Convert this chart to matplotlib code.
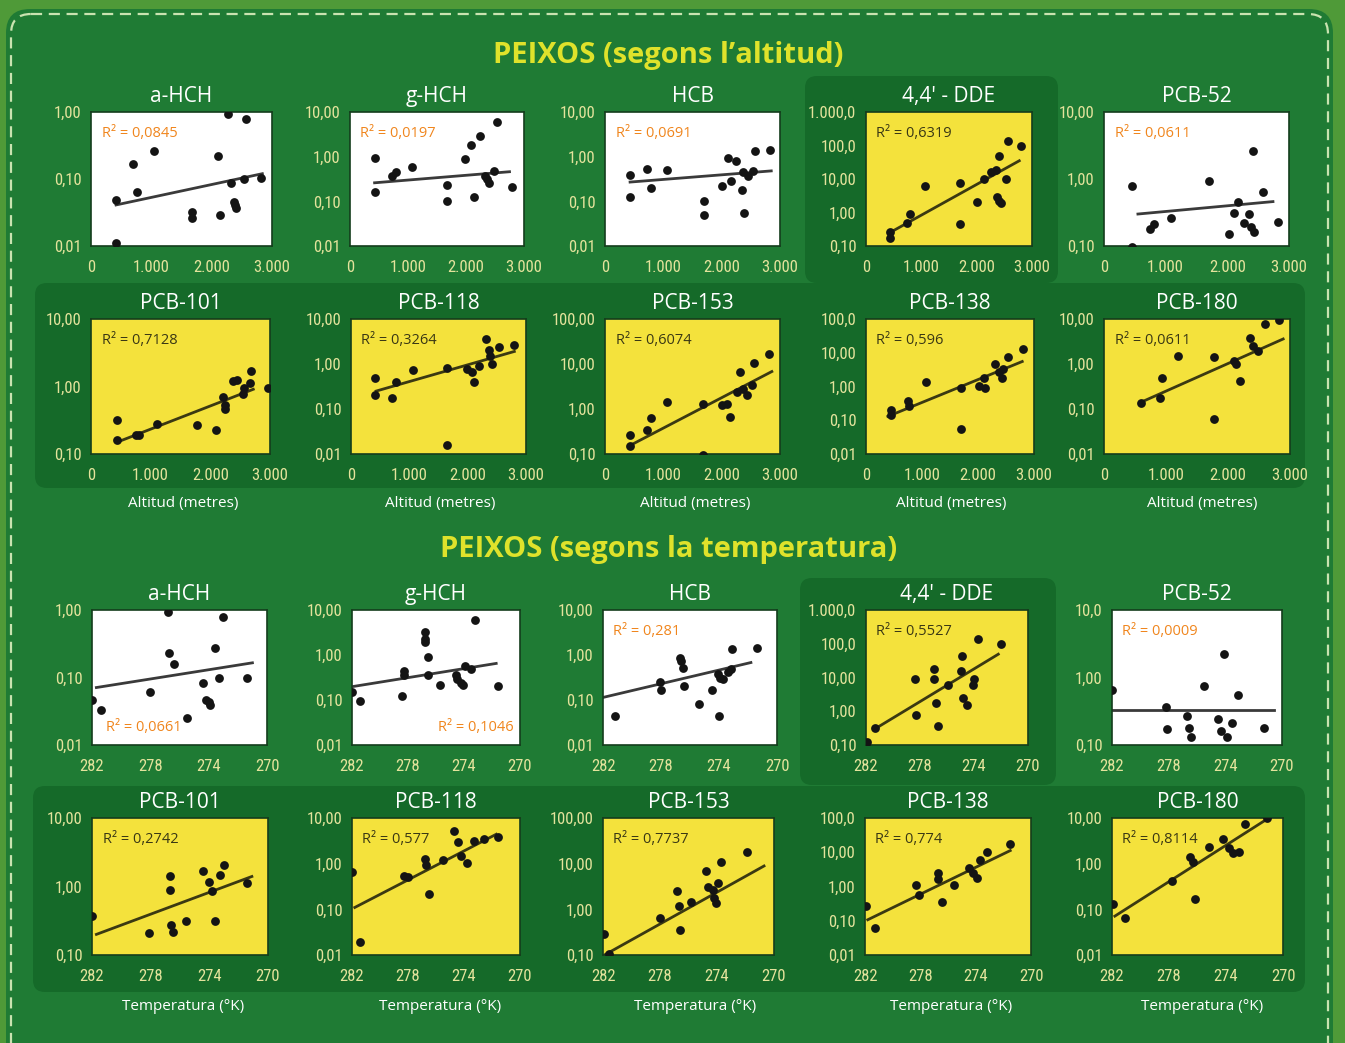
import numpy as np
import matplotlib.pyplot as plt
from matplotlib.patches import FancyBboxPatch
from matplotlib.ticker import NullLocator

W, H = 1345, 1043

compounds_top = ["a-HCH", "g-HCH", "HCB", "4,4' - DDE", "PCB-52"]
compounds_bottom = ["PCB-101", "PCB-118", "PCB-153", "PCB-138", "PCB-180"]

alt_ticks = [0, 1000, 2000, 3000]
alt_ticklabels = ["0", "1.000", "2.000", "3.000"]
temp_ticks = [282, 278, 274, 270]
temp_ticklabels = ["282", "278", "274", "270"]

ylims_top = [(0.01, 1), (0.01, 10), (0.01, 10), (0.1, 1000), (0.1, 10)]
ylims_bottom = [(0.1, 10), (0.01, 10), (0.1, 100), (0.01, 100), (0.01, 10)]
ylabels_top_alt = [["0,01", "0,10", "1,00"],
                   ["0,01", "0,10", "1,00", "10,00"],
                   ["0,01", "0,10", "1,00", "10,00"],
                   ["0,10", "1,00", "10,00", "100,0", "1.000,0"],
                   ["0,10", "1,00", "10,00"]]
ylabels_top_temp = [["0,01", "0,10", "1,00"],
                    ["0,01", "0,10", "1,00", "10,00"],
                    ["0,01", "0,10", "1,00", "10,00"],
                    ["0,10", "1,00", "10,00", "100,0", "1.000,0"],
                    ["0,10", "1,00", "10,0"]]
ylabels_bottom = [["0,10", "1,00", "10,00"],
                  ["0,01", "0,10", "1,00", "10,00"],
                  ["0,10", "1,00", "10,00", "100,00"],
                  ["0,01", "0,10", "1,00", "10,00", "100,0"],
                  ["0,01", "0,10", "1,00", "10,00"]]

r2_alt_top = ["0,0845", "0,0197", "0,0691", "0,6319", "0,0611"]
r2_alt_bottom = ["0,7128", "0,3264", "0,6074", "0,596", "0,0611"]
r2_temp_top = ["0,0661", "0,1046", "0,281", "0,5527", "0,0009"]
r2_temp_bottom = ["0,2742", "0,577", "0,7737", "0,774", "0,8114"]

# ---- concentracio vs altitud (m)
a_hch_alt_x = [415, 415, 700, 760, 1045, 1670, 1670, 2100, 2140, 2270, 2320, 2370, 2385, 2400, 2540, 2570, 2820]
a_hch_alt_y = [0.048, 0.011, 0.165, 0.063, 0.26, 0.032, 0.026, 0.22, 0.029, 0.93, 0.087, 0.046, 0.041, 0.037, 0.10, 0.78, 0.104]
a_hch_alt_fit = [(415, 0.041), (2840, 0.12)]

g_hch_alt_x = [424, 424, 730, 795, 1070, 1680, 1680, 1985, 2085, 2135, 2235, 2320, 2360, 2400, 2490, 2540, 2800]
g_hch_alt_y = [0.93, 0.16, 0.37, 0.45, 0.59, 0.23, 0.10, 0.89, 1.82, 0.125, 2.9, 0.37, 0.32, 0.26, 0.48, 6.0, 0.21]
g_hch_alt_fit = [(424, 0.26), (2750, 0.46)]

hcb_alt_x = [430, 430, 720, 790, 1060, 1700, 1700, 2000, 2110, 2160, 2250, 2350, 2370, 2385, 2450, 2540, 2570, 2830]
hcb_alt_y = [0.39, 0.126, 0.53, 0.20, 0.51, 0.10, 0.05, 0.22, 0.93, 0.28, 0.80, 0.18, 0.45, 0.055, 0.37, 0.48, 1.35, 1.4]
hcb_alt_fit = [(430, 0.27), (2850, 0.48)]

dde_alt_x = [430, 430, 735, 790, 1060, 1690, 1700, 2010, 2140, 2260, 2350, 2370, 2400, 2440, 2400, 2530, 2570, 2800]
dde_alt_y = [0.27, 0.17, 0.48, 0.93, 6.3, 7.8, 0.45, 2.0, 10.3, 16, 18, 3.0, 2.2, 1.9, 49, 10.3, 137, 98]
dde_alt_fit = [(430, 0.25), (2770, 35)]

pcb52_alt_x = [455, 455, 745, 810, 1085, 1700, 2030, 2110, 2170, 2270, 2350, 2380, 2430, 2415, 2575, 2820]
pcb52_alt_y = [0.78, 0.097, 0.18, 0.21, 0.26, 0.93, 0.15, 0.31, 0.46, 0.22, 0.30, 0.19, 0.16, 2.6, 0.65, 0.23]
pcb52_alt_fit = [(550, 0.30), (2740, 0.46)]

pcb101_alt_x = [440, 440, 755, 800, 1105, 1770, 2100, 2210, 2245, 2250, 2385, 2450, 2540, 2560, 2680, 2670, 2960]
pcb101_alt_y = [0.32, 0.16, 0.19, 0.19, 0.28, 0.27, 0.23, 0.71, 0.54, 0.47, 1.2, 1.25, 0.77, 0.95, 1.67, 1.13, 0.95]
pcb101_alt_fit = [(440, 0.15), (2720, 0.91)]

pcb118_alt_x = [410, 410, 700, 770, 1060, 1650, 1650, 1990, 2080, 2110, 2200, 2320, 2360, 2380, 2420, 2540, 2790]
pcb118_alt_y = [0.49, 0.20, 0.18, 0.40, 0.74, 0.80, 0.016, 0.77, 0.65, 0.40, 0.90, 3.6, 2.0, 1.5, 1.0, 2.4, 2.6]
pcb118_alt_fit = [(430, 0.25), (2800, 1.9)]

pcb153_alt_x = [430, 430, 720, 790, 1060, 1680, 1680, 2000, 2090, 2140, 2315, 2260, 2370, 2430, 2520, 2555, 2810]
pcb153_alt_y = [0.27, 0.15, 0.34, 0.63, 1.44, 1.3, 0.095, 1.23, 1.3, 0.66, 6.8, 2.4, 2.8, 2.1, 3.5, 10.3, 17]
pcb153_alt_fit = [(430, 0.155), (2860, 6.8)]

pcb138_alt_x = [445, 445, 745, 760, 1080, 1690, 1690, 2010, 2100, 2130, 2310, 2370, 2430, 2450, 2540, 2810]
pcb138_alt_y = [0.20, 0.14, 0.37, 0.26, 1.37, 0.9, 0.054, 1.05, 1.8, 0.9, 4.8, 2.6, 1.8, 3.2, 7.7, 12.6]
pcb138_alt_fit = [(390, 0.13), (2790, 5.5)]

pcb180_alt_x = [600, 900, 940, 1200, 1780, 1780, 2100, 2130, 2200, 2350, 2410, 2490, 2590, 2830]
pcb180_alt_y = [0.135, 0.18, 0.49, 1.5, 1.4, 0.06, 1.17, 1.0, 0.42, 3.8, 2.5, 1.9, 7.8, 9.5]
pcb180_alt_fit = [(590, 0.14), (2890, 3.6)]

# ---- concentracio vs temperatura (K)
a_hch_temp_x = [282.0, 281.4, 278.0, 276.8, 276.7, 276.4, 275.5, 274.4, 274.2, 274.0, 273.9, 273.6, 273.3, 273.0, 271.4]
a_hch_temp_y = [0.047, 0.033, 0.062, 0.92, 0.23, 0.16, 0.025, 0.083, 0.047, 0.043, 0.039, 0.27, 0.10, 0.80, 0.10]
a_hch_temp_fit = [(281.7, 0.071), (271.0, 0.165)]

g_hch_temp_x = [282.0, 281.4, 278.4, 278.3, 278.3, 276.8, 276.8, 276.8, 276.6, 276.6, 275.7, 274.6, 274.5, 274.2, 274.1, 273.9, 273.5, 273.2, 271.6]
g_hch_temp_y = [0.15, 0.095, 0.12, 0.45, 0.36, 3.2, 2.3, 1.9, 0.91, 0.36, 0.22, 0.36, 0.30, 0.24, 0.22, 0.57, 0.49, 6.1, 0.20]
g_hch_temp_fit = [(281.9, 0.20), (271.7, 0.65)]

hcb_temp_x = [281.2, 278.1, 278.0, 276.7, 276.6, 276.5, 276.4, 275.4, 274.5, 274.1, 274.0, 273.9, 273.7, 273.4, 273.2, 273.1, 271.4]
hcb_temp_y = [0.044, 0.25, 0.17, 0.87, 0.73, 0.51, 0.20, 0.083, 0.166, 0.38, 0.044, 0.31, 0.29, 0.42, 0.50, 1.35, 1.46]
hcb_temp_fit = [(282.0, 0.114), (271.8, 0.68)]

dde_temp_x = [281.9, 281.3, 278.4, 278.3, 277.0, 277.0, 276.8, 276.7, 275.9, 275.0, 274.9, 274.8, 274.5, 274.1, 274.0, 273.7, 272.0]
dde_temp_y = [0.12, 0.32, 9.3, 0.78, 18, 8.9, 1.7, 0.36, 6.2, 16, 44, 2.4, 1.5, 6.2, 9.0, 141, 98]
dde_temp_fit = [(281.4, 0.29), (272.2, 49)]

pcb52_temp_x = [282.0, 278.2, 278.1, 276.7, 276.6, 276.4, 275.5, 274.5, 274.3, 274.1, 273.9, 273.5, 273.1, 271.3]
pcb52_temp_y = [0.66, 0.36, 0.17, 0.27, 0.18, 0.13, 0.76, 0.24, 0.16, 2.26, 0.13, 0.21, 0.55, 0.18]
pcb52_temp_fit = [(282.0, 0.33), (270.6, 0.33)]

pcb101_temp_x = [282.0, 278.1, 276.7, 276.7, 276.6, 276.5, 275.6, 274.4, 274.0, 273.8, 273.6, 273.3, 273.0, 271.4]
pcb101_temp_y = [0.37, 0.21, 1.44, 0.88, 0.27, 0.22, 0.31, 1.66, 1.15, 0.86, 0.31, 1.48, 2.06, 1.13]
pcb101_temp_fit = [(281.7, 0.20), (271.1, 1.4)]

pcb118_temp_x = [282.0, 281.4, 278.3, 278.0, 276.8, 276.7, 276.5, 275.5, 274.7, 274.4, 274.2, 273.8, 273.3, 272.6, 271.6]
pcb118_temp_y = [0.66, 0.019, 0.55, 0.50, 1.26, 0.93, 0.22, 1.2, 5.3, 3.0, 1.5, 1.05, 3.2, 3.5, 3.8]
pcb118_temp_fit = [(281.8, 0.11), (271.7, 4.4)]

pcb153_temp_x = [281.9, 281.6, 278.0, 276.8, 276.7, 276.6, 275.8, 274.8, 274.6, 274.3, 274.2, 274.1, 273.9, 273.7, 271.9]
pcb153_temp_y = [0.29, 0.107, 0.66, 2.5, 1.2, 0.36, 1.45, 6.8, 3.1, 2.6, 1.8, 1.4, 3.7, 11, 17.8]
pcb153_temp_fit = [(281.9, 0.10), (270.7, 8.9)]

pcb138_temp_x = [281.9, 281.3, 278.3, 278.1, 276.7, 276.7, 276.4, 275.6, 274.5, 274.2, 273.9, 273.7, 273.2, 271.5]
pcb138_temp_y = [0.27, 0.063, 1.1, 0.56, 2.5, 1.7, 0.35, 1.1, 3.5, 2.5, 1.8, 5.9, 10.5, 17]
pcb138_temp_fit = [(281.8, 0.107), (271.5, 11.2)]

pcb180_temp_x = [281.9, 281.1, 277.8, 276.5, 276.3, 276.2, 275.2, 274.2, 273.8, 273.5, 273.1, 272.7, 271.1]
pcb180_temp_y = [0.13, 0.065, 0.41, 1.43, 1.07, 0.17, 2.3, 3.4, 2.2, 1.7, 1.8, 7.4, 10.0]
pcb180_temp_fit = [(281.8, 0.071), (271.0, 10.0)]

# colors / fonts
GREEN_OUT = "#4f9a38"
GREEN = "#1f7b34"
GREEN_BOX = "#156a29"
YELLOW = "#f4e23c"
TICK_COL = "#e4e39c"
ORANGE = "#f0861e"
TITLE_YEL = "#dfe22b"
FONT = ["Open Sans", "DejaVu Sans"]
FONT_NUM = ["Liberation Sans Narrow", "Roboto Condensed", "DejaVu Sans Condensed", "Roboto", "DejaVu Sans"]

# plot boxes in pixels (left, right) per column and (top, bottom) per row
cols_alt_top = [(91, 272), (350, 524), (605, 780), (866, 1032), (1104, 1289)]
cols_alt_bottom = [(91, 270), (351, 526), (605, 780), (866, 1034), (1104, 1290)]
cols_temp_top = [(92, 267), (352, 520), (603, 777), (866, 1028), (1112, 1282)]
cols_temp_bottom = [(92, 268), (352, 520), (603, 774), (865, 1031), (1112, 1283)]
rows_px = [(112, 246), (319, 454), (610, 745), (818, 955)]
label_cx = [183, 440, 695, 951, 1202]

fig = plt.figure(figsize=(W / 100, H / 100), dpi=100)
fig.patch.set_facecolor(GREEN_OUT)

bg = fig.add_axes([0, 0, 1, 1])
bg.set_xlim(0, W)
bg.set_ylim(H, 0)
bg.axis("off")

bg.add_patch(FancyBboxPatch((6, 9), 1327, 1060, boxstyle="round,pad=0,rounding_size=24",
                            fc=GREEN, ec="none"))
bg.add_patch(FancyBboxPatch((11, 14), 1317, 1060, boxstyle="round,pad=0,rounding_size=20",
                            fc="none", ec="#c9e3b0", lw=1.6, ls=(0, (5, 3))))
for (x0, y0, w, h) in [(805, 76, 253, 207), (35, 283, 1270, 205),
                       (800, 578, 256, 207), (33, 786, 1272, 206)]:
    bg.add_patch(FancyBboxPatch((x0, y0), w, h, boxstyle="round,pad=0,rounding_size=12",
                                fc=GREEN_BOX, ec="none"))

bg.text(668, 55, "PEIXOS (segons l\u2019altitud)", ha="center", va="center",
        color=TITLE_YEL, fontsize=21, fontweight="bold", family=FONT)
bg.text(669, 550, "PEIXOS (segons la temperatura)", ha="center", va="center",
        color=TITLE_YEL, fontsize=21, fontweight="bold", family=FONT)
for cx in label_cx:
    bg.text(cx, 503, "Altitud (metres)", ha="center", va="center", color="white",
            fontsize=11, family=FONT)
    bg.text(cx, 1007, "Temperatura (\u00b0K)", ha="center", va="center", color="white",
            fontsize=11, family=FONT)


def px_rect(lr, tb):
    l, r = lr
    t, b = tb
    return [l / W, 1 - b / H, (r - l) / W, (b - t) / H]


def panel(lr, tb, x, y, fit, xlim, xticks, xticklabels, ylim, yticklabels,
          title, r2, yellow, r2_where="top"):
    ax = fig.add_axes(px_rect(lr, tb))
    ax.set_facecolor(YELLOW if yellow else "white")
    ax.set_yscale("log")

    ax.scatter(x, y, s=40, color="#141414", linewidths=0, zorder=3)
    fx, fy = zip(*fit)
    ax.plot(fx, fy, color="#3b3912" if yellow else "#3a3a3a", lw=2.0, zorder=2)

    ax.set_xlim(*xlim)
    ax.set_ylim(*ylim)
    ax.set_xticks(xticks, xticklabels)
    yt = 10.0 ** np.arange(np.log10(ylim[0]), np.log10(ylim[1]) + 0.5)
    ax.set_yticks(yt, yticklabels)
    ax.yaxis.set_minor_locator(NullLocator())
    ax.tick_params(length=0, labelcolor=TICK_COL, labelsize=12)
    ax.tick_params(axis="x", pad=10)
    ax.tick_params(axis="y", pad=7)
    for lab in ax.get_xticklabels() + ax.get_yticklabels():
        lab.set_family(FONT_NUM)
    for sp in ax.spines.values():
        sp.set_color("#143d1c")
        sp.set_linewidth(1.2)

    ax.set_title(title, color="white", fontsize=15, pad=7, family=FONT)

    txt = "R\u00b2 = " + r2
    col = "#3a3814" if yellow else ORANGE
    if r2_where == "top":
        ax.text(0.06, 0.84, txt, transform=ax.transAxes, color=col, fontsize=10.5,
                va="center", ha="left", family=FONT)
    elif r2_where == "bottom_left":
        ax.text(0.08, 0.13, txt, transform=ax.transAxes, color=col, fontsize=10.5,
                va="center", ha="left", family=FONT)
    else:
        ax.text(0.96, 0.13, txt, transform=ax.transAxes, color=col, fontsize=10.5,
                va="center", ha="right", family=FONT)
    return ax


alt_top = [(a_hch_alt_x, a_hch_alt_y, a_hch_alt_fit),
           (g_hch_alt_x, g_hch_alt_y, g_hch_alt_fit),
           (hcb_alt_x, hcb_alt_y, hcb_alt_fit),
           (dde_alt_x, dde_alt_y, dde_alt_fit),
           (pcb52_alt_x, pcb52_alt_y, pcb52_alt_fit)]
alt_bottom = [(pcb101_alt_x, pcb101_alt_y, pcb101_alt_fit),
              (pcb118_alt_x, pcb118_alt_y, pcb118_alt_fit),
              (pcb153_alt_x, pcb153_alt_y, pcb153_alt_fit),
              (pcb138_alt_x, pcb138_alt_y, pcb138_alt_fit),
              (pcb180_alt_x, pcb180_alt_y, pcb180_alt_fit)]
temp_top = [(a_hch_temp_x, a_hch_temp_y, a_hch_temp_fit),
            (g_hch_temp_x, g_hch_temp_y, g_hch_temp_fit),
            (hcb_temp_x, hcb_temp_y, hcb_temp_fit),
            (dde_temp_x, dde_temp_y, dde_temp_fit),
            (pcb52_temp_x, pcb52_temp_y, pcb52_temp_fit)]
temp_bottom = [(pcb101_temp_x, pcb101_temp_y, pcb101_temp_fit),
               (pcb118_temp_x, pcb118_temp_y, pcb118_temp_fit),
               (pcb153_temp_x, pcb153_temp_y, pcb153_temp_fit),
               (pcb138_temp_x, pcb138_temp_y, pcb138_temp_fit),
               (pcb180_temp_x, pcb180_temp_y, pcb180_temp_fit)]

for i in range(5):
    x, y, fit = alt_top[i]
    panel(cols_alt_top[i], rows_px[0], x, y, fit, (0, 3000), alt_ticks, alt_ticklabels,
          ylims_top[i], ylabels_top_alt[i], compounds_top[i], r2_alt_top[i], yellow=(i == 3))

    x, y, fit = alt_bottom[i]
    panel(cols_alt_bottom[i], rows_px[1], x, y, fit, (0, 3000), alt_ticks, alt_ticklabels,
          ylims_bottom[i], ylabels_bottom[i], compounds_bottom[i], r2_alt_bottom[i], yellow=True)

    x, y, fit = temp_top[i]
    where = {0: "bottom_left", 1: "bottom_right"}.get(i, "top")
    panel(cols_temp_top[i], rows_px[2], x, y, fit, (282, 270), temp_ticks, temp_ticklabels,
          ylims_top[i], ylabels_top_temp[i], compounds_top[i], r2_temp_top[i],
          yellow=(i == 3), r2_where=where)

    x, y, fit = temp_bottom[i]
    panel(cols_temp_bottom[i], rows_px[3], x, y, fit, (282, 270), temp_ticks, temp_ticklabels,
          ylims_bottom[i], ylabels_bottom[i], compounds_bottom[i], r2_temp_bottom[i], yellow=True)

fig.savefig("out.png", dpi=100, facecolor=fig.get_facecolor())
